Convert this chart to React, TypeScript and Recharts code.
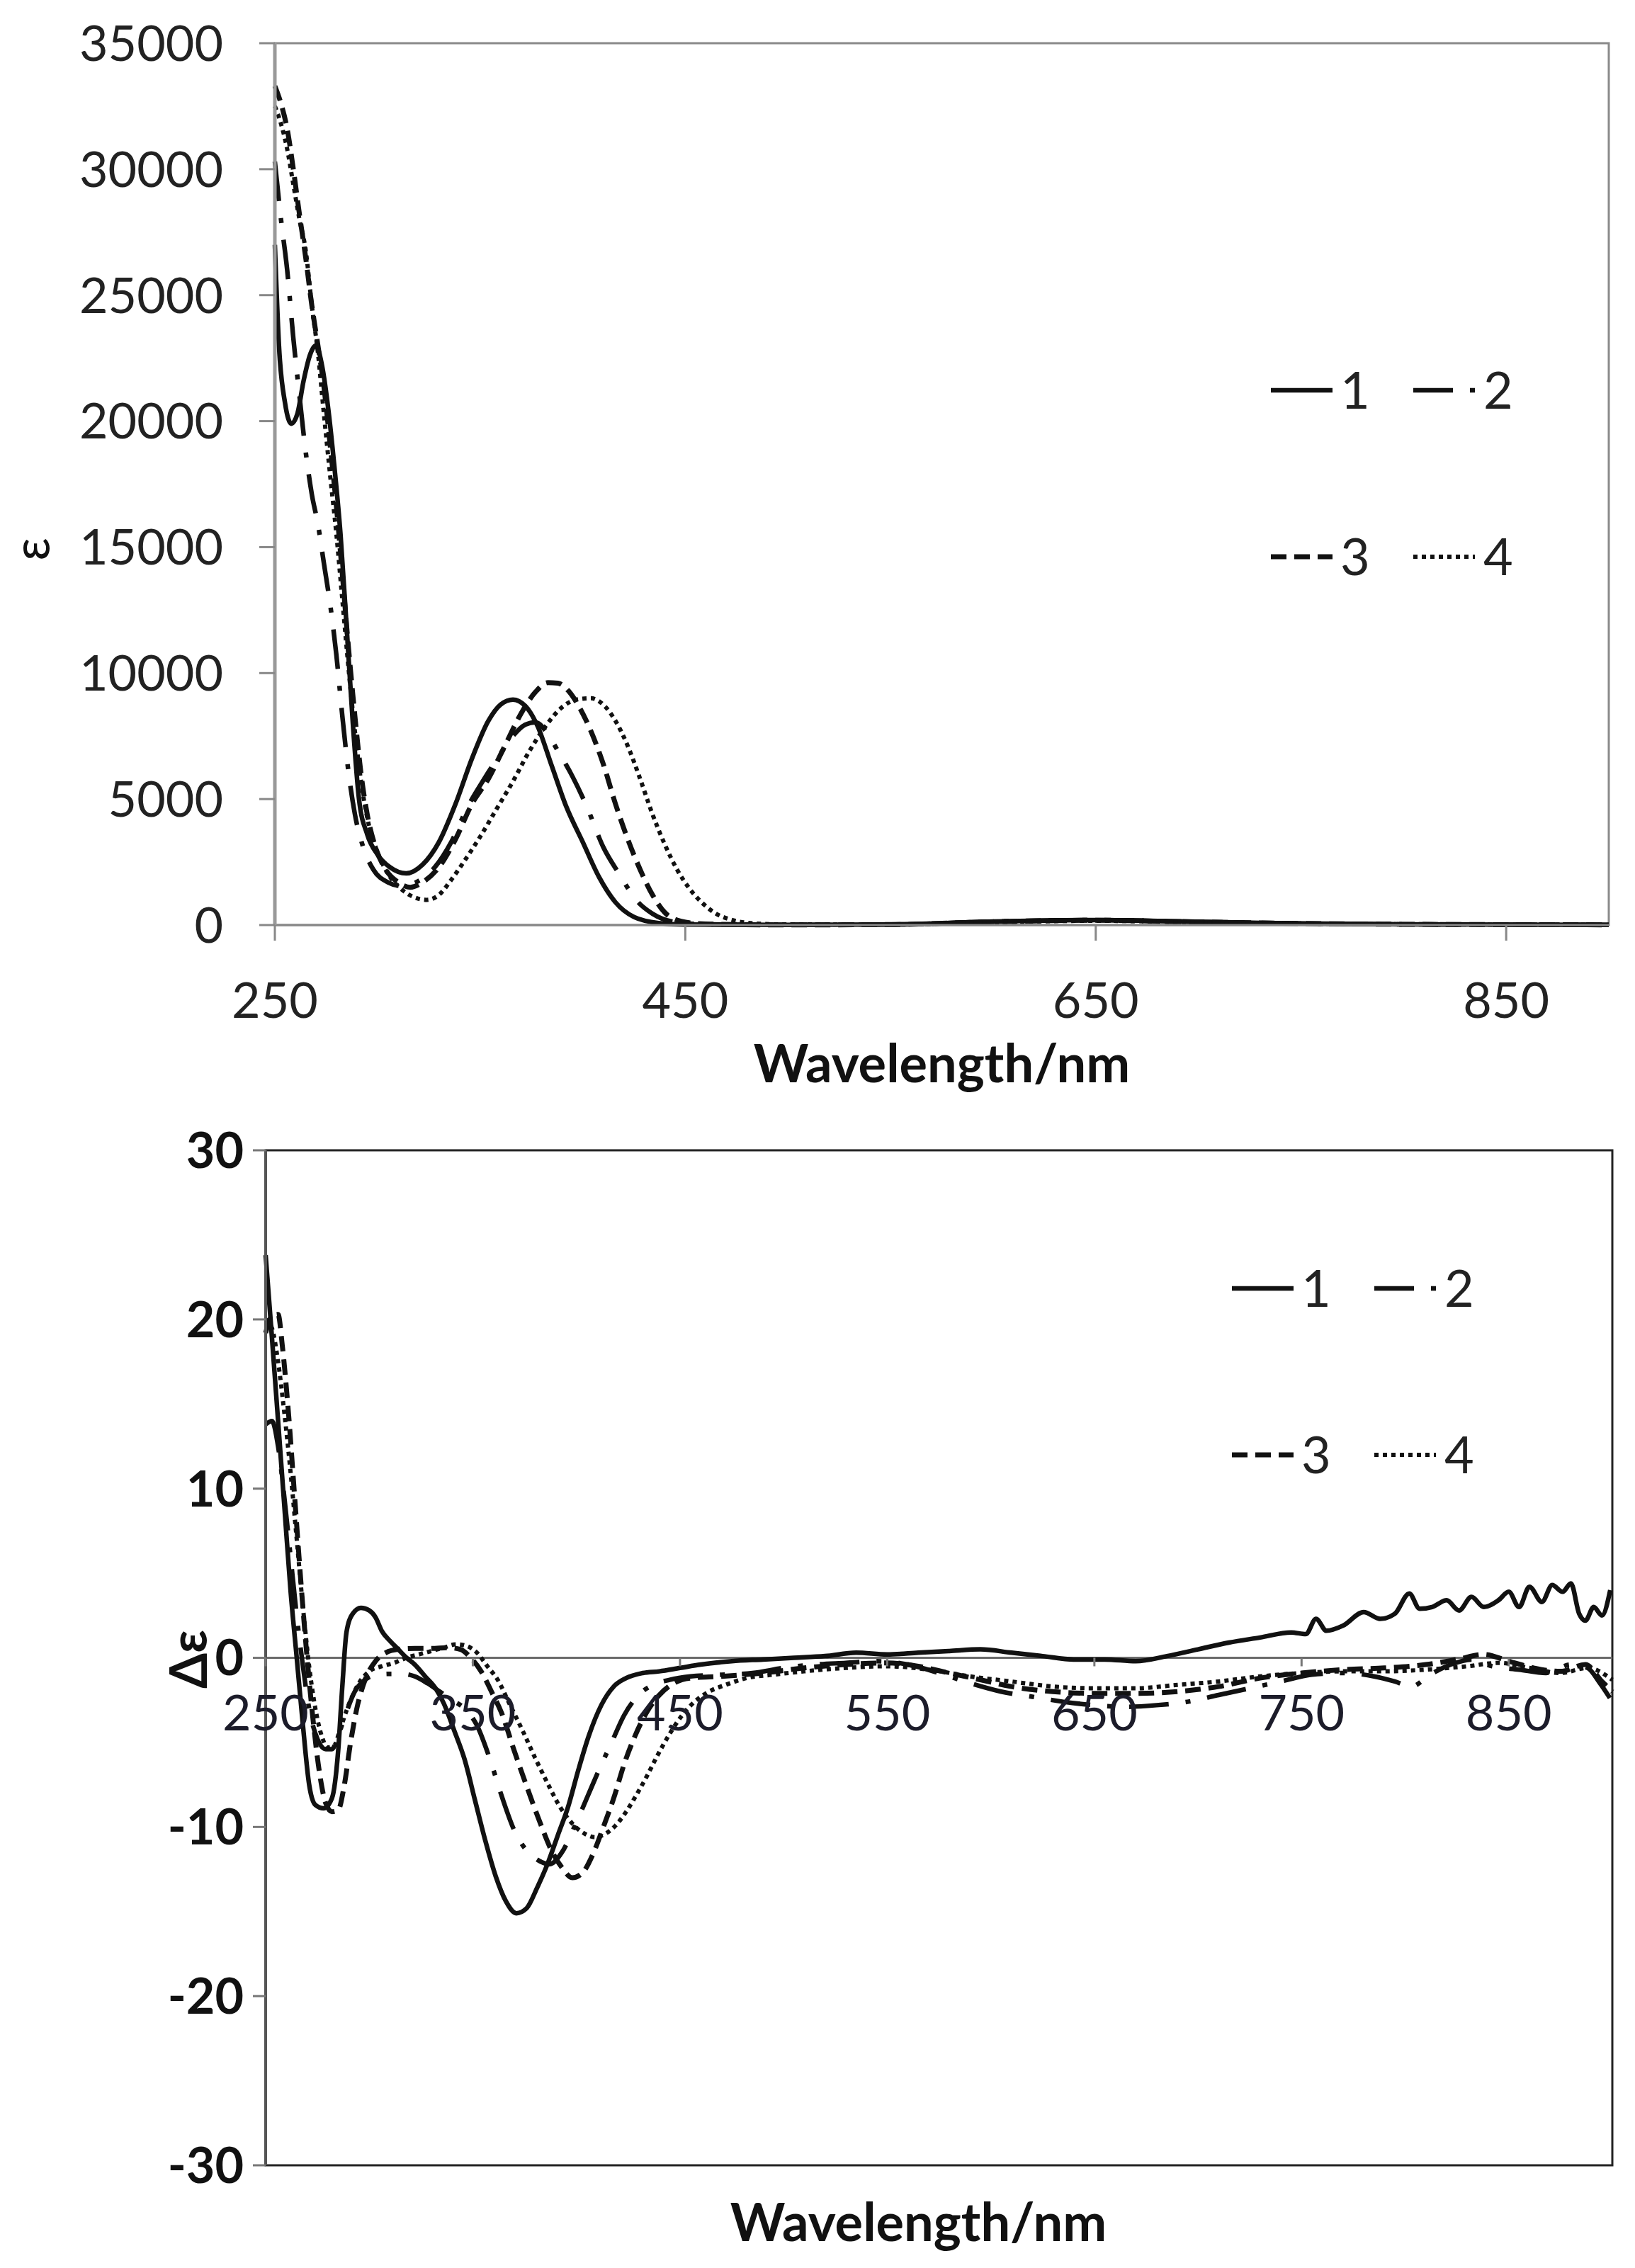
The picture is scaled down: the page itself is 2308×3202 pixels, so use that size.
import React from 'react';
import { LineChart, Line, XAxis, YAxis, ReferenceArea, ReferenceLine, Legend } from 'recharts';

const FONT = 'Lato, "Open Sans", sans-serif';

// absorption spectra (epsilon vs wavelength/nm)
const absWl1 = [250, 252, 255, 258, 261, 264, 267, 270, 273, 276, 279, 282, 285, 288, 291, 295, 300, 306, 314, 322, 330, 338, 346, 354, 360, 366, 372, 378, 385, 392, 400, 408, 416, 425, 437, 450, 500, 550, 600, 650, 700, 750, 800, 850, 900];
const absEps1 = [27000, 23000, 20700, 19900, 20300, 21600, 22600, 23000, 22200, 20500, 18200, 15500, 11800, 8000, 5000, 3600, 2800, 2300, 2050, 2400, 3300, 4800, 6600, 8100, 8750, 8950, 8700, 7900, 6300, 4700, 3300, 1900, 900, 320, 80, 20, 5, 20, 140, 200, 130, 60, 30, 15, 10];

const absWl2 = [250, 253, 256, 259, 262, 265, 268, 271, 274, 277, 280, 283, 286, 289, 293, 298, 305, 312, 320, 328, 336, 344, 352, 360, 366, 372, 377, 382, 388, 395, 402, 410, 418, 426, 434, 445, 460, 500, 550, 600, 650, 700, 750, 800, 900];
const absEps2 = [30300, 28000, 26000, 23300, 21000, 18800, 17100, 15900, 14300, 12700, 10700, 8200, 6000, 4400, 3100, 2200, 1700, 1550, 1750, 2300, 3300, 4700, 5800, 6800, 7500, 7950, 8050, 7700, 6900, 5900, 4700, 3100, 2000, 1000, 450, 120, 30, 5, 20, 140, 200, 130, 60, 30, 10];

const absWl3 = [250, 253, 256, 259, 262, 265, 268, 271, 274, 277, 280, 283, 286, 289, 292, 295, 299, 304, 310, 316, 322, 330, 338, 346, 354, 362, 370, 377, 383, 388, 393, 398, 404, 410, 416, 422, 428, 434, 440, 448, 460, 500, 550, 600, 650, 700, 800, 900];
const absEps3 = [33300, 32600, 31600, 30000, 28200, 26500, 24600, 23000, 21300, 19000, 16600, 13800, 10900, 8300, 6000, 4400, 3100, 2200, 1700, 1500, 1700, 2300, 3400, 4800, 5800, 7100, 8400, 9250, 9620, 9600, 9300, 8700, 7700, 6400, 4800, 3400, 2200, 1200, 500, 150, 40, 5, 20, 130, 190, 120, 30, 10];

const absWl4 = [250, 253, 256, 259, 262, 265, 268, 271, 274, 277, 280, 283, 286, 289, 292, 296, 300, 305, 312, 318, 324, 330, 336, 342, 350, 358, 366, 374, 382, 390, 397, 404, 410, 416, 422, 428, 434, 440, 446, 452, 458, 465, 472, 480, 495, 550, 600, 650, 700, 800, 900];
const absEps4 = [32500, 31800, 30800, 29400, 28000, 26800, 24600, 22700, 20200, 17800, 15500, 12800, 10100, 7700, 5700, 3900, 2900, 2050, 1400, 1100, 1000, 1200, 1800, 2500, 3500, 4600, 5700, 6900, 7900, 8650, 8950, 9000, 8750, 8100, 7100, 5800, 4400, 3200, 2200, 1450, 900, 450, 220, 90, 30, 20, 110, 170, 110, 30, 10];

// CD spectra (delta epsilon vs wavelength/nm)
const cdWl1 = [250, 253, 256, 259, 262, 265, 268, 271, 274, 278, 282, 285, 287, 289, 292, 296, 300, 303, 306, 310, 314, 318, 322, 327, 332, 336, 341, 346, 351, 356, 361, 366, 371, 376, 381, 386, 391, 396, 401, 406, 412, 418, 424, 432, 440, 450, 460, 475, 490, 505, 520, 535, 550, 565, 580, 595, 610, 625, 640, 655, 670, 685, 700, 715, 730, 745, 752, 757, 762, 770, 780, 788, 795, 802, 807, 813, 820, 826, 832, 838, 845, 850, 855, 860, 866, 871, 876, 880, 884, 887, 891, 895, 899];
const cdDe1 = [23.8, 19, 14, 9, 4, 0, -4, -7.5, -8.7, -8.9, -8.3, -5.5, -1.7, 1.5, 2.6, 2.95, 2.8, 2.4, 1.6, 1.0, 0.5, 0, -0.4, -1.1, -1.8, -2.7, -4.3, -6.0, -8.4, -10.8, -12.9, -14.4, -15.1, -14.8, -13.6, -12.2, -10.5, -8.8, -6.6, -4.6, -2.8, -1.7, -1.2, -0.9, -0.8, -0.6, -0.4, -0.2, -0.1, 0, 0.1, 0.3, 0.2, 0.3, 0.4, 0.5, 0.3, 0.1, -0.1, -0.1, -0.2, 0.1, 0.5, 0.9, 1.2, 1.5, 1.4, 2.3, 1.6, 1.9, 2.7, 2.3, 2.6, 3.8, 2.9, 3.0, 3.4, 2.8, 3.6, 3.0, 3.4, 3.9, 3.0, 4.2, 3.3, 4.3, 3.9, 4.4, 2.6, 2.2, 3.0, 2.5, 4.0];

const cdWl2 = [250, 253, 256, 259, 262, 265, 268, 271, 275, 279, 282, 285, 289, 293, 298, 304, 310, 316, 322, 328, 334, 340, 346, 352, 358, 364, 370, 376, 382, 387, 393, 399, 405, 411, 417, 423, 430, 437, 445, 455, 470, 485, 500, 515, 530, 545, 560, 575, 590, 605, 620, 635, 650, 665, 680, 695, 710, 725, 740, 755, 770, 785, 795, 803, 812, 822, 832, 842, 855, 868, 880, 888, 894, 900];
const cdDe2 = [13.8, 14, 12.5, 9.5, 6, 2.5, -0.5, -3, -4.8, -5.4, -5.4, -4.6, -3.2, -2.0, -1.3, -1.0, -0.95, -0.95, -1.1, -1.5, -2.0, -2.5, -3.0, -4.0, -5.9, -8.2, -10.2, -11.4, -12.0, -12.2, -11.5, -10.0, -8.3, -6.6, -5.0, -3.4, -2.2, -1.6, -1.3, -1.1, -1.0, -0.9, -0.6, -0.4, -0.3, -0.2, -0.4, -0.9, -1.5, -2.0, -2.3, -2.6, -2.8, -2.9, -2.8, -2.6, -2.2, -1.8, -1.4, -1.0, -0.9, -1.1, -1.4, -1.7, -1.0, -0.4, -0.1, -0.5, -0.7, -0.9, -0.4, -0.6, -1.5, -2.6];

const cdWl3 = [250, 253, 256, 258, 261, 264, 267, 270, 273, 276, 279, 282, 285, 288, 291, 294, 298, 303, 308, 314, 322, 330, 338, 344, 349, 354, 359, 364, 370, 376, 382, 388, 393, 398, 403, 408, 413, 418, 423, 428, 434, 440, 447, 455, 470, 490, 510, 530, 550, 565, 580, 595, 610, 630, 650, 670, 690, 710, 730, 750, 770, 790, 810, 825, 838, 850, 862, 875, 887, 895, 900];
const cdDe3 = [19.2, 20.2, 20.3, 18.5, 14.5, 9.5, 4.5, 0, -3.8, -6.8, -8.6, -9.1, -9.0, -7.5, -5.0, -3.0, -1.3, -0.2, 0.3, 0.5, 0.55, 0.55, 0.6, 0.5, 0.0, -0.8, -2.0, -3.3, -5.5, -7.6, -9.6, -11.4, -12.4, -13.0, -12.7, -11.6, -10.0, -8.3, -6.3, -4.7, -3.2, -2.2, -1.5, -1.2, -1.1, -0.9, -0.6, -0.4, -0.3, -0.5, -0.9, -1.3, -1.7, -2.0, -2.1, -2.1, -2.0, -1.7, -1.2, -0.9, -0.7, -0.6, -0.4, -0.1, 0.2, -0.2, -0.6, -0.8, -0.4, -1.4, -2.0];

const cdWl4 = [250, 253, 256, 259, 262, 265, 268, 271, 274, 277, 280, 283, 286, 290, 295, 300, 306, 312, 318, 324, 330, 336, 342, 347, 352, 357, 362, 368, 374, 380, 386, 392, 398, 404, 409, 414, 419, 424, 429, 434, 439, 445, 451, 457, 464, 472, 482, 495, 510, 530, 550, 570, 590, 610, 630, 650, 670, 690, 710, 730, 750, 770, 790, 810, 830, 845, 860, 875, 888, 900];
const cdDe4 = [20.0, 19.5, 17.5, 14.5, 11, 7, 3, -0.5, -3.0, -4.6, -5.3, -5.2, -4.2, -2.8, -1.5, -0.8, -0.5, -0.3, 0, 0.2, 0.4, 0.6, 0.8, 0.7, 0.3, -0.5, -1.3, -2.8, -4.3, -5.9, -7.4, -8.8, -9.8, -10.4, -10.6, -10.4, -9.9, -9.1, -8.1, -7.0, -5.8, -4.5, -3.4, -2.6, -2.0, -1.6, -1.2, -1.0, -0.8, -0.6, -0.5, -0.7, -1.1, -1.4, -1.7, -1.8, -1.8, -1.6, -1.4, -1.1, -0.9, -0.8, -0.8, -0.7, -0.5, -0.3, -0.6, -0.9, -0.6, -1.3];

const absXTicks = [250, 450, 650, 850];
const absYTicks = [0, 5000, 10000, 15000, 20000, 25000, 30000, 35000];
const cdXTicks = [250, 350, 450, 550, 650, 750, 850];
const cdYTicks = [-30, -20, -10, 0, 10, 20, 30];
const seriesNames = ['1', '2', '3', '4'];

const lineStyles = [
  { dash: undefined, width: 6.5 },
  { dash: '56 24 7 24', width: 6.5 },
  { dash: '22 11', width: 7 },
  { dash: '6 6', width: 6 },
];

const toPoints = (wl: number[], v: number[]) => wl.map((x, i) => ({ wl: x, v: v[i] }));

const absSeries = [
  toPoints(absWl1, absEps1),
  toPoints(absWl2, absEps2),
  toPoints(absWl3, absEps3),
  toPoints(absWl4, absEps4),
];
const cdSeries = [
  toPoints(cdWl1, cdDe1),
  toPoints(cdWl2, cdDe2),
  toPoints(cdWl3, cdDe3),
  toPoints(cdWl4, cdDe4),
];

const LegendBox = () => (
  <svg width={420} height={380} style={{ display: 'block' }}>
    {seriesNames.map((name, i) => {
      const col = i % 2;
      const row = Math.floor(i / 2);
      const y = row === 0 ? 71 : 306;
      const x0 = col === 0 ? 14 : 215;
      const x1 = col === 0 ? 101 : 302;
      const st = lineStyles[i];
      return (
        <g key={name}>
          <line x1={x0} x2={x1} y1={y} y2={y} stroke="#111" strokeWidth={st.width} strokeDasharray={st.dash} />
          <text x={col === 0 ? 112 : 314} y={y + 26} fontSize={72} fontFamily={FONT} fill="#222">{name}</text>
        </g>
      );
    })}
  </svg>
);

const CD_PLOT_H = 1433;

const CdTick = (props: any) => {
  const { x, y, payload } = props;
  const zeroY = y - CD_PLOT_H / 2;
  return (
    <g>
      <line x1={x} x2={x} y1={zeroY} y2={zeroY + 12} stroke="#777" strokeWidth={3} />
      <text x={x} y={zeroY + 102} textAnchor="middle" fontSize={70} fontFamily={FONT} fill="#1c1c2a">
        {payload.value}
      </text>
    </g>
  );
};

const AbsorptionChart = () => (
  <LineChart width={2308} height={1560} margin={{ top: 61, right: 37, bottom: 0, left: 0 }}>
    <ReferenceArea x1={250} x2={900} y1={0} y2={35000} fill="none" stroke="#8a8a8a" strokeWidth={3} fillOpacity={0} />
    <XAxis
      dataKey="wl" type="number" domain={[250, 900]} ticks={absXTicks} interval={0} height={254}
      axisLine={{ stroke: '#888', strokeWidth: 3 }} tickLine={{ stroke: '#888', strokeWidth: 3 }}
      tickSize={22} tickMargin={59}
      tick={{ fontSize: 70, fill: '#222', fontFamily: FONT }}
      label={{ value: 'Wavelength/nm', position: 'center', dy: 69, fontSize: 74, fontWeight: 700, fill: '#111', fontFamily: FONT }}
    />
    <YAxis
      type="number" domain={[0, 35000]} ticks={absYTicks} interval={0} width={388}
      axisLine={{ stroke: '#999', strokeWidth: 5 }} tickLine={{ stroke: '#888', strokeWidth: 3 }}
      tickSize={22} tickMargin={51}
      tick={{ fontSize: 70, fill: '#222', fontFamily: FONT }}
      label={{ value: 'ε', angle: -90, position: 'center', dx: -150, dy: 92, fontSize: 72, fill: '#111', fontFamily: FONT }}
    />
    {absSeries.map((pts, i) => (
      <Line
        key={seriesNames[i]} name={seriesNames[i]} data={pts} dataKey="v" type="monotone"
        stroke="#111" strokeWidth={lineStyles[i].width} strokeDasharray={lineStyles[i].dash}
        dot={false} activeDot={false} isAnimationActive={false}
      />
    ))}
    <Legend
      layout="horizontal" verticalAlign="middle" align="center"
      wrapperStyle={{ left: 1780, top: 480, width: 420, height: 380 }}
      content={() => <LegendBox />}
    />
  </LineChart>
);

const CdChart = () => (
  <LineChart width={2308} height={1642} margin={{ top: 64, right: 32, bottom: 0, left: 0 }}>
    <ReferenceArea x1={250} x2={900} y1={-30} y2={30} fill="none" stroke="#222" strokeWidth={3} fillOpacity={0} />
    <ReferenceLine y={0} stroke="#6a6a6a" strokeWidth={3} />
    <XAxis
      dataKey="wl" type="number" domain={[250, 900]} ticks={cdXTicks} interval={0} height={145}
      axisLine={false} tickLine={false} tickSize={0} tickMargin={0}
      tick={<CdTick />}
      label={{ value: 'Wavelength/nm', position: 'center', dx: -29, dy: 8, fontSize: 74, fontWeight: 700, fill: '#111', fontFamily: FONT }}
    />
    <YAxis
      type="number" domain={[-30, 30]} ticks={cdYTicks} interval={0} width={375}
      axisLine={{ stroke: '#555', strokeWidth: 4 }} tickLine={{ stroke: '#777', strokeWidth: 3 }}
      tickSize={18} tickMargin={13}
      tick={{ fontSize: 70, fill: '#111', fontWeight: 700, fontFamily: FONT }}
      label={{ value: 'Δε', angle: -90, position: 'center', dx: 79, dy: 2, fontSize: 72, fontWeight: 700, fill: '#111', fontFamily: FONT }}
    />
    {cdSeries.map((pts, i) => (
      <Line
        key={seriesNames[i]} name={seriesNames[i]} data={pts} dataKey="v" type="monotone"
        stroke="#111" strokeWidth={lineStyles[i].width} strokeDasharray={lineStyles[i].dash}
        dot={false} activeDot={false} isAnimationActive={false}
      />
    ))}
    <Legend
      layout="horizontal" verticalAlign="middle" align="center"
      wrapperStyle={{ left: 1725, top: 188, width: 420, height: 380 }}
      content={() => <LegendBox />}
    />
  </LineChart>
);

export default function App() {
  return (
    <div style={{ position: 'absolute', left: 0, top: 0, width: 2308, height: 3202, background: '#fff' }}>
      <AbsorptionChart />
      <CdChart />
    </div>
  );
}
